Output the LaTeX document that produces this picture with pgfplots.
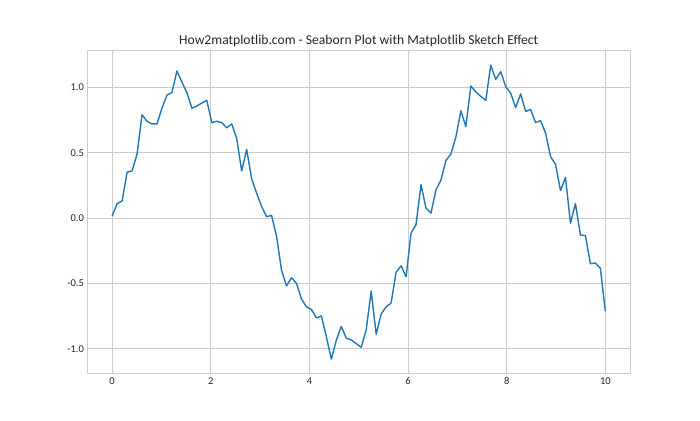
\documentclass[border=0pt]{standalone}
\usepackage{fontspec}
\setmainfont{Carlito}
\usepackage{pgfplots}
\pgfplotsset{compat=1.18}
\definecolor{mplblue}{HTML}{1F77B4}
\definecolor{gridc}{HTML}{CCCCCC}
\definecolor{txt}{HTML}{262626}
\begin{document}
\begin{tikzpicture}
\path[use as bounding box] (-87.5pt,-46.2pt) rectangle (612.5pt,373.8pt);
\begin{axis}[
 at={(0,0)}, anchor=south west,
 scale only axis, width=542.5pt, height=323.4pt,
 xmin=-0.5, xmax=10.5, ymin=-1.1925, ymax=1.2825,
 xtick={0,2,4,6,8,10}, ytick={-1,-0.5,0,0.5,1},
 grid=major, major grid style={gridc, line width=0.8pt},
 axis line style={gridc, line width=1pt},
 tick style={draw=none},
 /pgf/number format/assume math mode=true,
 ticklabel style={font=\fontsize{10.5}{12}\selectfont, text=txt},
 yticklabel style={/pgf/number format/fixed, /pgf/number format/fixed zerofill, /pgf/number format/precision=1},
 title={How2matplotlib.com - Seaborn Plot with Matplotlib Sketch Effect},
 title style={font=\fontsize{13.6}{16}\selectfont, text=txt, at={(0.5,1)}, anchor=base, yshift=0pt},
]
\addplot[mplblue, line width=1.4pt, line join=round, no marks] coordinates {
(0,0.015) (0.1010,0.11) (0.2020,0.13) (0.3030,0.35) (0.4040,0.36) (0.5051,0.49) (0.6061,0.79) (0.7071,0.74) (0.8081,0.72) (0.9091,0.72)
(1.0101,0.84) (1.1111,0.94) (1.2121,0.96) (1.3131,1.125) (1.4141,1.04) (1.5152,0.96) (1.6162,0.84) (1.7172,0.857) (1.8182,0.88) (1.9192,0.90)
(2.0202,0.73) (2.1212,0.74) (2.2222,0.73) (2.3232,0.69) (2.4242,0.72) (2.5253,0.61) (2.6263,0.36) (2.7273,0.525) (2.8283,0.30) (2.9293,0.19)
(3.0303,0.087) (3.1313,0.01) (3.2323,0.02) (3.3333,-0.14) (3.4343,-0.40) (3.5354,-0.52) (3.6364,-0.457) (3.7374,-0.50) (3.8384,-0.62) (3.9394,-0.68)
(4.0404,-0.70) (4.1414,-0.765) (4.2424,-0.75) (4.3434,-0.91) (4.4444,-1.08) (4.5455,-0.935) (4.6465,-0.83) (4.7475,-0.92) (4.8485,-0.933) (4.9495,-0.962)
(5.0505,-0.99) (5.1515,-0.855) (5.2525,-0.56) (5.3535,-0.89) (5.4545,-0.735) (5.5556,-0.68) (5.6566,-0.65) (5.7576,-0.415) (5.8586,-0.366) (5.9596,-0.45)
(6.0606,-0.115) (6.1616,-0.05) (6.2626,0.255) (6.3636,0.075) (6.4646,0.037) (6.5657,0.215) (6.6667,0.29) (6.7677,0.44) (6.8687,0.49) (6.9697,0.62)
(7.0707,0.82) (7.1717,0.70) (7.2727,1.01) (7.3737,0.965) (7.4747,0.93) (7.5758,0.90) (7.6768,1.17) (7.7778,1.06) (7.8788,1.12) (7.9798,1.005)
(8.0808,0.955) (8.1818,0.845) (8.2828,0.95) (8.3838,0.815) (8.4848,0.83) (8.5859,0.73) (8.6869,0.745) (8.7879,0.65) (8.8889,0.47) (8.9899,0.41)
(9.0909,0.21) (9.1919,0.31) (9.2929,-0.04) (9.3939,0.11) (9.4949,-0.13) (9.5960,-0.135) (9.6970,-0.35) (9.7980,-0.345) (9.8990,-0.385) (10.0000,-0.715)
};
\end{axis}
\end{tikzpicture}
\end{document}
